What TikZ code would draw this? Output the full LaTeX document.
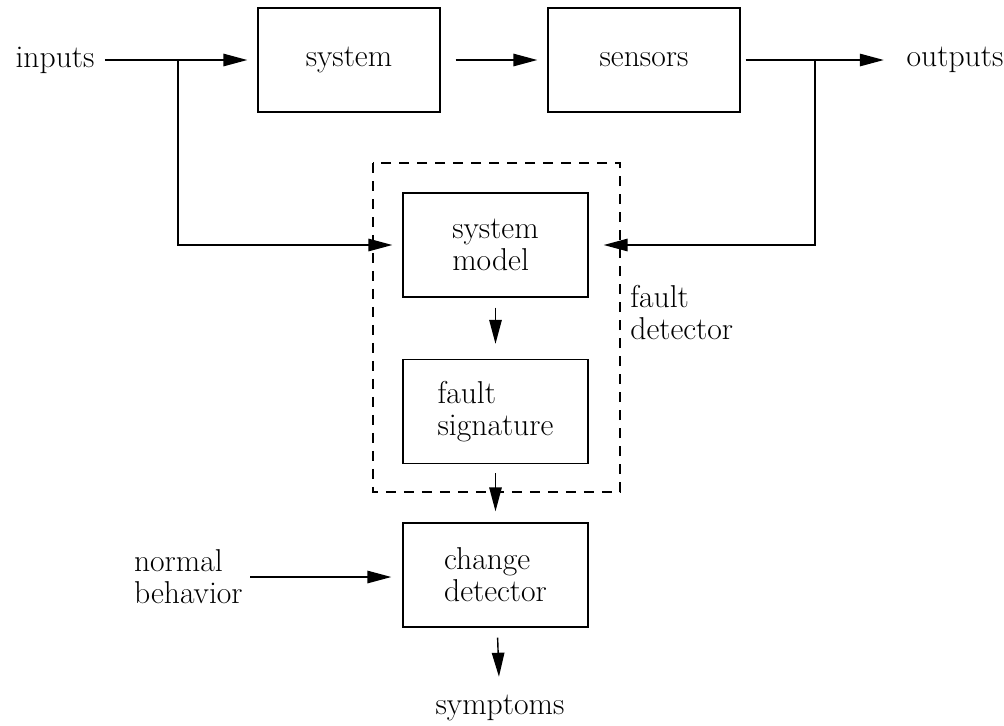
\documentclass[tikz,border=0pt]{standalone}
\usepackage{fontspec}
\usepackage{tikz}
\usetikzlibrary{arrows.meta}

\tikzset{
  block/.style={draw,line width=0.8pt,minimum width=3.7cm,minimum height=2.08cm,align=left},
  label/.style={align=left,inner sep=0pt},
  conn/.style={line width=0.8pt,-{Triangle[length=0.48cm,width=0.25cm]}},
  plain/.style={line width=0.8pt}
}

\begin{document}
\begin{tikzpicture}[x=0.02cm,y=-0.02cm,font=\fontsize{18}{18.2}\selectfont]
\useasboundingbox (0,0) rectangle (1004,725);

% Boxes
\node[block,minimum width=3.64cm] (sys) at (349,60) {system};
\node[block,minimum width=3.84cm] (sens) at (644,60) {sensors};
\node[block] (model) at (495.5,245) {system\\model};
\node[block] (sig) at (495.5,411.5) {fault\\signature};
\node[block] (chg) at (495.5,575) {change\\detector};
\draw[plain,dash pattern=on 0.2cm off 0.16cm] (373,163) rectangle (620,492);

% Labels
\node[label] (in) at (55,60) {inputs};
\node[label] (out) at (955,60) {outputs};
\node[label,anchor=west] (fd) at (630,313) {fault\\detector};
\node[label,anchor=east] (nb) at (243,577) {normal\\behavior};
\node[label] (sym) at (500,708) {symptoms};
\coordinate (inbr) at (178,60);
\coordinate (outbr) at (815,60);
\coordinate (nbout) at (250,577);

% Lines
\draw[conn,shorten <=0.2cm,shorten >=0.2cm] (in) -- (sys);
\draw[conn,shorten <=0.3cm,shorten >=0.2cm] (sys) -- (sens);
\draw[conn,shorten <=0.1cm,shorten >=0.45cm] (sens) -- (out);
\draw[conn,shorten >=0.2cm] (inbr) |- (model.west);
\draw[conn,shorten >=0.3cm] (outbr) |- (model.east);
\draw[conn,shorten <=0.2cm,shorten >=0.3cm] (model) -- (sig);
\draw[conn,shorten <=0.18cm,shorten >=0.22cm] (sig) -- (chg);
\draw[conn,shorten >=0.22cm] (nbout) -- (chg.west |- nbout);
\draw[conn,shorten <=0.2cm,shorten >=0.36cm] (chg) -- (sym);

\end{tikzpicture}
\end{document}
